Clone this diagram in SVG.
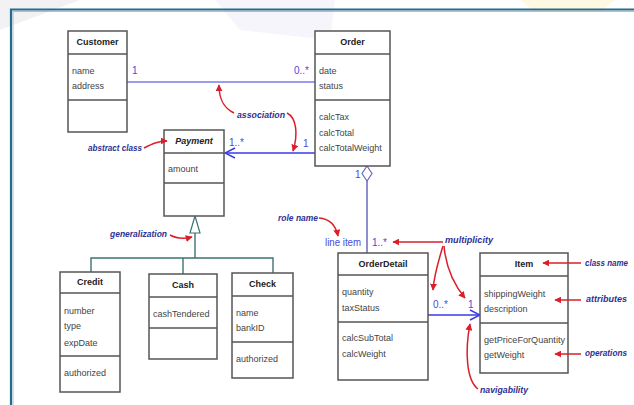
<svg xmlns="http://www.w3.org/2000/svg" width="634" height="405" viewBox="0 0 634 405">
<defs>
<marker id="red" viewBox="0 0 10 10" refX="9" refY="5" markerWidth="7" markerHeight="7" orient="auto" markerUnits="userSpaceOnUse">
<path d="M0,0 L10,5 L0,10 z" fill="#d9202a"/>
</marker>
<marker id="open" viewBox="0 0 12 12" refX="11" refY="6" markerWidth="12" markerHeight="12" orient="auto" markerUnits="userSpaceOnUse">
<path d="M1,1 L11,6 L1,11" fill="none" stroke="#3a3ae8" stroke-width="1.4"/>
</marker>
</defs>
<style>
.box{fill:#fff;stroke:#555;stroke-width:1.5}
.div{stroke:#555;stroke-width:1.3}
.cn{font-family:"Liberation Sans",Arial,sans-serif;font-size:9px;font-weight:bold;fill:#222;text-anchor:middle}
.at{font-family:"Liberation Sans",Arial,sans-serif;font-size:9px;fill:#444}
.mul{font-family:"Liberation Sans",Arial,sans-serif;font-size:10px;fill:#4a4ae0}
.ann{font-family:"Liberation Sans",Arial,sans-serif;font-size:9.5px;font-style:italic;font-weight:bold;fill:#2e3192}
.ann.r{font-size:8.6px}
.ra{fill:none;stroke:#d9202a;stroke-width:1.5;marker-end:url(#red)}
</style>
<rect width="634" height="405" fill="#fff"/>
<g id="background" opacity="0.5">
<polygon points="0,0 80,0 0,30" fill="#e6e6ea"/>
<polygon points="215,0 335,0 330,40 240,30" fill="#ececf8"/>
<polygon points="520,0 615,0 600,12 535,12" fill="#fff2c6"/>
</g>
<path d="M11,405 V9.5 H634" fill="none" stroke="#246b8c" stroke-width="2.2"/>
<path d="M13,405 V11.5 H634" fill="none" stroke="#8fb4c8" stroke-width="0.8"/>

<g id="connectors">
<line x1="127" y1="82" x2="315" y2="82" stroke="#7a7aee" stroke-width="1.4"/>
<line x1="315" y1="153" x2="225" y2="153" stroke="#3a3ae8" stroke-width="1.5" marker-end="url(#open)"/>
<path d="M367,166 L372,173.5 L367,181 L362,173.5 z" fill="#fff" stroke="#6a6ab8" stroke-width="1.2"/>
<line x1="367" y1="181" x2="367" y2="253" stroke="#6a6ab8" stroke-width="1.5"/>
<line x1="428" y1="315" x2="480" y2="315" stroke="#3a3ae8" stroke-width="1.5" marker-end="url(#open)"/>
<path d="M195,216 L200,233 L190,233 z" fill="#fff" stroke="#3d7470" stroke-width="1.2"/>
<path d="M195,233 V258 M91,272 V258 H273 V273 M183,258 V274" fill="none" stroke="#3d7470" stroke-width="1.4"/>
<text class="mul" x="132" y="74">1</text>
<text class="mul" x="294" y="74">0..*</text>
<text class="mul" x="229" y="146">1..*</text>
<text class="mul" x="303" y="147">1</text>
<text class="mul" x="355" y="178">1</text>
<text class="mul" x="372" y="246">1..*</text>
<text class="mul" x="433" y="308">0..*</text>
<text class="mul" x="468" y="308">1</text>
</g>

<g id="customer">
<rect class="box" x="68" y="31" width="59" height="101"/>
<line class="div" x1="68" y1="54" x2="127" y2="54"/>
<line class="div" x1="68" y1="100" x2="127" y2="100"/>
<text class="cn" x="97.5" y="45">Customer</text>
<text class="at" x="72" y="74">name</text>
<text class="at" x="72" y="89">address</text>
</g>

<g id="order">
<rect class="box" x="315" y="31" width="75" height="135"/>
<line class="div" x1="315" y1="54" x2="390" y2="54"/>
<line class="div" x1="315" y1="100" x2="390" y2="100"/>
<text class="cn" x="352.5" y="45">Order</text>
<text class="at" x="319" y="74">date</text>
<text class="at" x="319" y="89">status</text>
<text class="at" x="319" y="120">calcTax</text>
<text class="at" x="319" y="136">calcTotal</text>
<text class="at" x="319" y="151">calcTotalWeight</text>
</g>

<g id="payment">
<rect class="box" x="164" y="130" width="60" height="86"/>
<line class="div" x1="164" y1="153" x2="224" y2="153"/>
<line class="div" x1="164" y1="183" x2="224" y2="183"/>
<text class="cn" x="194" y="144" font-style="italic">Payment</text>
<text class="at" x="168" y="172">amount</text>
</g>

<g id="credit">
<rect class="box" x="60" y="272" width="60" height="120"/>
<line class="div" x1="60" y1="293" x2="120" y2="293"/>
<line class="div" x1="60" y1="356" x2="120" y2="356"/>
<text class="cn" x="90" y="285">Credit</text>
<text class="at" x="64" y="314">number</text>
<text class="at" x="64" y="329">type</text>
<text class="at" x="64" y="346">expDate</text>
<text class="at" x="64" y="376">authorized</text>
</g>

<g id="cash">
<rect class="box" x="149" y="274" width="68" height="85"/>
<line class="div" x1="149" y1="297" x2="217" y2="297"/>
<line class="div" x1="149" y1="328" x2="217" y2="328"/>
<text class="cn" x="183" y="288">Cash</text>
<text class="at" x="153" y="317">cashTendered</text>
</g>

<g id="check">
<rect class="box" x="232" y="273" width="61" height="105"/>
<line class="div" x1="232" y1="296" x2="293" y2="296"/>
<line class="div" x1="232" y1="342" x2="293" y2="342"/>
<text class="cn" x="262.5" y="287">Check</text>
<text class="at" x="236" y="316">name</text>
<text class="at" x="236" y="331">bankID</text>
<text class="at" x="236" y="362">authorized</text>
</g>

<g id="orderdetail">
<rect class="box" x="338" y="253" width="90" height="127"/>
<line class="div" x1="338" y1="275" x2="428" y2="275"/>
<line class="div" x1="338" y1="322" x2="428" y2="322"/>
<text class="cn" x="383" y="267">OrderDetail</text>
<text class="at" x="342" y="295">quantity</text>
<text class="at" x="342" y="311">taxStatus</text>
<text class="at" x="342" y="341">calcSubTotal</text>
<text class="at" x="342" y="357">calcWeight</text>
</g>

<g id="item">
<rect class="box" x="480" y="253" width="88" height="120"/>
<line class="div" x1="480" y1="276" x2="568" y2="276"/>
<line class="div" x1="480" y1="323" x2="568" y2="323"/>
<text class="cn" x="524" y="267">Item</text>
<text class="at" x="484" y="297">shippingWeight</text>
<text class="at" x="484" y="312">description</text>
<text class="at" x="484" y="343" textLength="81" lengthAdjust="spacingAndGlyphs">getPriceForQuantity</text>
<text class="at" x="484" y="358">getWeight</text>
</g>

<g id="annotations">
<text class="ann" x="237" y="118" textLength="48" lengthAdjust="spacingAndGlyphs">association</text>
<path class="ra" d="M234,113 C224,108 219,100 219,85"/>
<path class="ra" d="M287,113 C297,118 298,135 293,151"/>
<text class="ann" x="88" y="151" textLength="54" lengthAdjust="spacingAndGlyphs">abstract class</text>
<path class="ra" d="M144,148 C152,144 158,141 167,141"/>
<text class="ann" x="110" y="237" textLength="57" lengthAdjust="spacingAndGlyphs">generalization</text>
<path class="ra" d="M170,235 C177,239 184,239 192,237"/>
<text class="ann" x="278" y="221" textLength="40" lengthAdjust="spacingAndGlyphs">role name</text>
<path class="ra" d="M319,218 C330,219 336,226 338,236"/>
<text class="mul" x="325" y="246" textLength="36" lengthAdjust="spacingAndGlyphs">line item</text>
<text class="ann" x="445" y="243" textLength="48" lengthAdjust="spacingAndGlyphs">multiplicity</text>
<path class="ra" d="M443,242 L393,242"/>
<path class="ra" d="M443,246 C438,262 434,276 433,290"/>
<path class="ra" d="M444,246 C446,268 455,286 465,298"/>
<text class="ann" x="480" y="393" textLength="48" lengthAdjust="spacingAndGlyphs">navigability</text>
<path class="ra" d="M478,389 C466,380 465,350 470,324"/>
<text class="ann r" x="585" y="266" textLength="43" lengthAdjust="spacingAndGlyphs">class name</text>
<path class="ra" d="M581,263 L543,263"/>
<text class="ann r" x="586" y="302" textLength="41" lengthAdjust="spacingAndGlyphs">attributes</text>
<path class="ra" d="M581,300 L555,300"/>
<text class="ann r" x="585" y="356" textLength="42" lengthAdjust="spacingAndGlyphs">operations</text>
<path class="ra" d="M581,354 L555,354"/>
</g>
</svg>
